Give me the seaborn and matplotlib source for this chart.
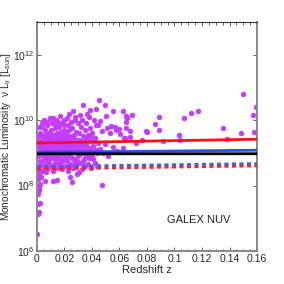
import numpy as np
import pandas as pd
import matplotlib
matplotlib.use("Agg")
import matplotlib.pyplot as plt
import seaborn as sns

# galaxies: redshift (x1000) and log10 of nu L_nu
z_milli = [
    0.5, 0.8, 1.0, 1.2, 1.5, 1.7, 2.0, 2.2, 0.6, 1.4, 0.3, 0.9, 1.2, 1.0, 2.0, 0.5, 1.5, 2.5, 1.8, 0.7,
    2.6, 3.0, 3.3, 3.6, 3.9, 4.2, 4.5, 4.8, 2.9, 3.5, 4.0, 4.6, 5.0, 3.2, 2.8,
    5.3, 5.5, 5.8, 6.1, 6.4, 6.7, 7.0, 7.3, 7.6, 7.9, 8.2, 8.5, 8.8, 9.1, 9.5, 9.8, 6.0, 7.5, 8.0, 9.3, 5.6, 6.9,
    10.2, 10.5, 10.8, 11.1, 11.4, 11.9, 12.2, 12.5, 12.8, 13.1, 13.4, 13.7, 14.0, 14.3, 14.6, 14.9, 10.0, 11.6, 12.0, 13.0, 14.2, 10.7,
    15.2, 15.5, 15.8, 16.1, 16.4, 16.7, 17.0, 17.3, 17.6, 17.9, 18.2, 18.5, 18.8, 19.1, 19.4, 19.7, 15.0, 16.0, 18.0, 19.5,
    20.2, 20.5, 20.8, 21.1, 21.6, 21.9, 22.2, 22.5, 22.8, 23.1, 23.4, 23.7, 24.0, 24.3, 24.6, 24.9, 25.2, 20.0, 23.0, 21.5,
    25.5, 25.8, 26.0, 26.4, 26.7, 27.0, 27.3, 27.6, 27.9, 28.2, 28.5, 28.9, 29.2, 29.5, 29.8, 26.5, 28.0,
    30.1, 30.5, 31.3, 31.6, 31.9, 32.2, 32.5, 32.9, 33.2, 33.7, 34.0, 34.3, 34.6, 34.9, 30.8, 33.0,
    35.2, 35.6, 36.0, 36.4, 36.8, 37.2, 37.6, 38.0, 38.4, 38.8, 39.2, 39.6, 36.2, 38.6,
    40.0, 40.5, 41.0, 41.5, 42.0, 42.5, 43.0, 43.5, 44.0, 44.6, 45.0, 45.8, 44.5, 43.2,
    46.0, 47.0, 47.0, 49.5, 49.5, 50.2, 50.7, 53.3, 53.6, 55.5, 55.5, 56.7, 57.5, 59.6, 60.4, 62.8, 62.8, 63.3,
    64.0, 64.7, 64.7, 65.0, 65.7, 67.6, 67.6, 68.9, 72.0, 48.0, 52.0, 58.0,
    76.4, 79.5, 79.8, 85.6, 88.5, 89.0, 92.0, 103, 104, 107, 112, 117, 135, 138, 148, 150, 157, 159, 158,
    0.4, 1.1, 1.9, 2.4, 3.1, 3.7, 4.3, 4.9, 5.2, 5.9, 6.3, 6.6, 7.2, 7.8, 8.4, 8.7, 9.0, 9.6, 10.4, 10.9,
    11.3, 11.8, 12.4, 12.7, 13.3, 13.8, 14.4, 14.8, 15.3, 15.7, 16.3, 16.8, 17.2, 17.7, 18.3, 18.7, 19.2, 19.8,
    20.4, 20.9, 21.3, 21.8, 22.4, 22.9, 23.3, 23.8, 24.4, 24.8, 25.3, 25.9, 26.3, 26.9, 27.4, 28.4, 28.8, 29.4,
    30.3, 31.0, 31.8, 32.7, 33.5, 34.4, 35.4, 36.6, 37.4, 38.2, 39.0, 39.8, 41.2, 42.8,
]
log_lum = [
    9.2, 8.9, 9.5, 8.6, 9.8, 9.0, 8.4, 9.3, 8.2, 7.85, 6.52, 7.14, 7.19, 7.44, 7.47, 7.75, 7.95, 8.05, 8.3, 8.5,
    9.6, 9.1, 8.7, 9.4, 9.79, 8.9, 9.95, 8.55, 8.25, 9.9, 9.2, 9.5, 8.8, 8.45, 9.0,
    10.0, 9.3, 8.6, 9.7, 9.0, 8.4, 9.45, 9.85, 8.8, 9.2, 8.55, 9.6, 9.05, 8.7, 10.07, 9.35, 8.15, 9.95, 9.55, 8.95, 9.55, 8.95,
    9.7, 8.6, 9.2, 9.9, 8.45, 8.15, 9.45, 8.9, 9.75, 8.7, 9.3, 10.0, 8.8, 8.17, 9.6, 9.05, 8.95, 9.55, 10.05, 9.1, 9.85, 9.4,
    8.55, 9.5, 8.85, 9.8, 9.2, 10.12, 8.7, 9.35, 9.65, 8.95, 9.9, 8.5, 9.1, 9.45, 8.8, 9.7, 9.95, 9.0, 9.55, 10.0,
    9.25, 8.6, 9.6, 9.0, 10.07, 8.75, 9.4, 9.85, 8.45, 9.15, 9.7, 8.9, 8.25, 9.5, 9.95, 8.65, 8.1, 9.85, 10.2, 9.3,
    9.3, 9.75, 10.27, 8.55, 9.05, 9.55, 8.8, 10.0, 9.2, 8.6, 9.65, 8.35, 9.4, 9.9, 8.9, 9.45, 10.1,
    9.1, 9.6, 10.17, 8.7, 9.3, 9.8, 8.5, 9.0, 9.5, 10.45, 8.8, 9.25, 9.7, 8.6, 8.4, 10.0,
    9.45, 8.9, 9.9, 9.15, 8.65, 9.55, 10.1, 8.85, 9.35, 9.75, 8.55, 9.05, 10.2, 10.3,
    9.6, 8.8, 9.2, 10.0, 8.7, 9.45, 9.85, 9.0, 8.6, 9.85, 10.6, 9.97, 9.3, 10.35,
    9.11, 9.67, 8.03, 10.45, 9.26, 10.12, 9.77, 9.6, 9.82, 10.29, 9.18, 9.79, 9.69, 9.72, 9.58, 10.27, 9.14, 9.46,
    9.46, 10.12, 9.95, 9.77, 10.05, 9.48, 9.67, 10.17, 9.31, 9.0, 8.9, 9.05,
    9.38, 9.66, 9.64, 9.89, 10.09, 9.69, 9.36, 9.55, 9.38, 10.07, 10.23, 10.29, 9.75, 9.42, 9.62, 10.81, 10.17, 10.39, 9.65,
    9.0, 9.35, 8.75, 9.15, 9.55, 8.95, 9.35, 9.1, 8.45, 9.15, 9.4, 8.75, 9.1, 9.35, 8.9, 9.25, 9.5, 8.85, 9.1, 8.85,
    9.3, 9.05, 9.25, 8.55, 9.55, 9.2, 8.95, 9.4, 9.15, 9.35, 8.65, 9.45, 9.05, 9.25, 8.75, 9.35, 9.2, 8.95,
    9.45, 9.15, 8.85, 9.55, 9.05, 9.3, 8.6, 9.25, 9.0, 9.35, 8.85, 9.05, 9.2, 8.65, 9.3, 9.1, 9.25, 8.75,
    9.4, 8.95, 9.15, 9.35, 8.75, 9.05, 9.25, 9.4, 8.95, 9.15, 9.5, 8.9, 9.35, 9.1,
]

# model curves, values at z = 0 and z = 0.16
z_line = [0.0, 0.16]
red_solid = [2.0e9, 2.6e9]
blue_solid = [1.04e9, 1.2e9]
black_solid = [9.3e8, 9.4e8]
blue_dashed = [3.8e8, 4.7e8]
red_dashed = [3.2e8, 4.0e8]

sns.set_style("ticks")
plt.rcParams['font.family'] = ['Liberation Sans', 'DejaVu Sans']
plt.rcParams['mathtext.fontset'] = 'custom'
plt.rcParams['mathtext.rm'] = 'Liberation Sans'
plt.rcParams['mathtext.it'] = 'Liberation Sans'

df = pd.DataFrame({"z": np.array(z_milli) / 1000.0, "L": 10 ** np.array(log_lum)})

fig = plt.figure(figsize=(2.84, 2.84), dpi=100)
ax = fig.add_axes([0.130, 0.116, 0.775, 0.807])

sns.scatterplot(data=df, x="z", y="L", ax=ax, marker="o", s=11, color="#C63CFF",
                edgecolor="#C63CFF", linewidth=0.6, zorder=2, legend=False)

lines = pd.DataFrame({"z": z_line * 5,
                      "L": red_solid + blue_solid + black_solid + blue_dashed + red_dashed,
                      "name": ["rs"] * 2 + ["bs"] * 2 + ["ks"] * 2 + ["bd"] * 2 + ["rd"] * 2})
styles = {"rs": ("#FF1010", "-"), "bs": ("#2050FF", "-"), "ks": ("black", "-"),
          "bd": ("#3060FF", (0, (1.5, 1.2))), "rd": ("#FF2020", (0, (1.5, 1.2)))}
for name in ["rs", "bs", "ks", "bd", "rd"]:
    col, ls = styles[name]
    sns.lineplot(data=lines[lines.name == name], x="z", y="L", ax=ax, color=col,
                 linestyle=ls, linewidth=2.0, zorder=3, legend=False)

ax.set_yscale("log")
ax.set_xlim(0, 0.16)
ax.set_ylim(1e6, 1e13)
ax.set_xticks([0, 0.02, 0.04, 0.06, 0.08, 0.1, 0.12, 0.14, 0.16])
ax.set_xticklabels(["0", "0.02", "0.04", "0.06", "0.08", "0.1", "0.12", "0.14", "0.16"])
ax.set_xticks(np.arange(0, 0.1601, 0.005), minor=True)
ax.set_yticks([1e6, 1e8, 1e10, 1e12])
ax.set_yticklabels([r"$10^{6}$", r"$10^{8}$", r"$10^{10}$", r"$10^{12}$"])
ax.yaxis.set_minor_locator(matplotlib.ticker.NullLocator())
ax.tick_params(which="both", direction="in", top=True, right=True, labelsize=7.5,
               length=3, width=0.6, color="#444444", pad=2)
ax.tick_params(which="minor", length=1.8)
for side in ["left", "right", "bottom"]:
    ax.spines[side].set_color("#888888")
    ax.spines[side].set_linewidth(1.4)
ax.spines["top"].set_color("#333333")
ax.spines["top"].set_linewidth(0.8)

ax.set_xlabel("Redshift z", fontsize=8, labelpad=1)
ax.set_ylabel(r"Monochromatic Luminosity  $\nu$ L$_\nu$ [L$_{sun}$]", fontsize=7.2, labelpad=0)
ax.text(0.1176, 10 ** 6.95, "GALEX NUV", fontsize=8, ha="center", va="center", color="#222222")

fig.savefig("out.png", dpi=100)
